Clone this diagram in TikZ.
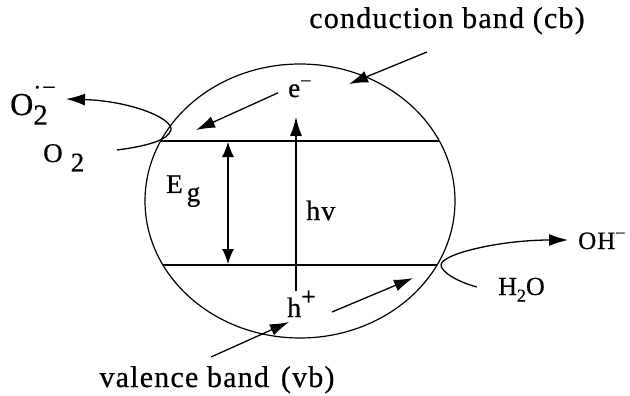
\documentclass[tikz,border=0pt]{standalone}
\usepackage{fontspec}
\setmainfont[LetterSpace=4, FakeBold=0.6]{Liberation Serif}
\usepackage{tikz}
\usetikzlibrary{arrows.meta, positioning, shapes.geometric}

\tikzset{
    lbl/.style={inner sep=0pt, font=\fontsize{30}{32}\selectfont},
    arr/.style={draw, line width=1.3pt, -{Latex[length=19pt,width=12pt]}},
    band/.style={draw, line width=1.2pt}
}

\begin{document}
\begin{tikzpicture}[x=1pt, y=-1pt]
    \useasboundingbox (0,0) rectangle (630,396);

    % --- particle and bands ---
    \node [draw, line width=1.2pt, ellipse, minimum width=310pt, minimum height=274pt, inner sep=0pt] (particle) at (300,201) {};
    \coordinate (cbleft) at (160.6,141);
    \coordinate (cbright) at (439.4,141);
    \coordinate (vbleft) at (163,265);
    \coordinate (vbright) at (437,265);
    \path [band] (cbleft) -- (cbright);
    \path [band] (vbleft) -- (vbright);

    % --- labels ---
    \node [lbl, anchor=base] (cblabel) at (447,28) {conduction band (cb)};
    \node [lbl, anchor=base] (vblabel) at (217,387) {valence band\hspace{0.4em}(vb)};
    \node [lbl, anchor=base west, font=\fontsize{27}{29}\selectfont] (elec) at (288,97) {e\raisebox{0.35em}{\fontsize{20}{20}\selectfont −}};
    \node [lbl, anchor=base west, font=\fontsize{27}{29}\selectfont] (gap) at (166,193) {E\hspace{0.15em}\raisebox{-0.3em}{g}};
    \node [lbl, anchor=base west, font=\fontsize{28}{30}\selectfont] (hv) at (306,220) {hv};
    \node [lbl, anchor=base west, font=\fontsize{28}{30}\selectfont] (hole) at (287,317) {h\raisebox{0.42em}{\fontsize{26}{26}\selectfont +}};
    \node [lbl, anchor=base west, font=\fontsize{27}{29}\selectfont] (oxy) at (43,162) {O\hspace{0.3em}\raisebox{-0.35em}{2}};
    \node [lbl, anchor=base west, font=\fontsize{32}{34}\selectfont] (superox) at (10,115) {O\rlap{\raisebox{0.62em}{\fontsize{24}{24}\selectfont ·−}}\raisebox{-0.3em}{\fontsize{29}{29}\selectfont 2}};
    \node [lbl, anchor=base west, font=\fontsize{26}{28}\selectfont] (water) at (498,295) {H\raisebox{-0.25em}{\fontsize{18}{18}\selectfont 2}O};
    \node [lbl, anchor=base west, font=\fontsize{25}{27}\selectfont] (hydrox) at (578,249) {OH\raisebox{0.4em}{\fontsize{18}{18}\selectfont −}};

    % --- free ends ---
    \coordinate (cbtail) at (427,52);
    \coordinate (cbtip) at (349,84);
    \coordinate (vbtail) at (211,357);
    \coordinate (vbtip) at (289,322);
    \coordinate (etip) at (196,130);
    \coordinate (htail) at (332,312);
    \coordinate (htip) at (413,278);
    \coordinate (hvtail) at (296,291);
    \coordinate (hvtip) at (296,117);
    \coordinate (egtop) at (228,142);
    \coordinate (egbot) at (228,264);
    \coordinate (o2start) at (117,150);
    \coordinate (o2tip) at (66,99);
    \coordinate (h2ostart) at (477,287);
    \coordinate (ohtip) at (568,240);

    % --- arrows ---
    \path [arr] (cbtail) -- (cbtip);
    \path [arr] (vbtail) -- (vbtip);
    \path [arr] (elec.west) ++(-10,4) -- (etip);
    \path [arr] (htail) -- (htip);
    \path [arr] (hvtail) -- (hvtip);
    \path [arr, {Latex[length=15pt,width=12pt]}-{Latex[length=15pt,width=12pt]}] (egtop) -- (egbot);
    \path [arr] (o2start) .. controls (148,146) and (168,140) .. (171,130) .. controls (173,118) and (130,101) .. (o2tip);
    \path [arr] (h2ostart) .. controls (458,282) and (441,272) .. (441,265) .. controls (441,254) and (500,240) .. (ohtip);
\end{tikzpicture}
\end{document}
